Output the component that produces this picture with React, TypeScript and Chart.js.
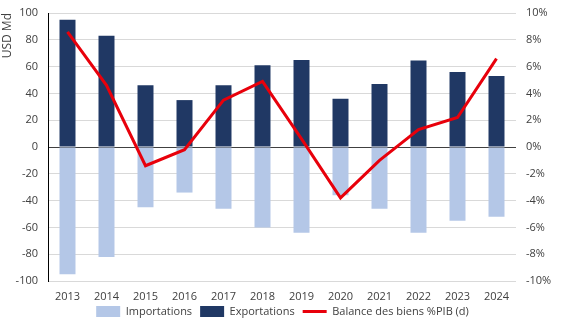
import React, { useEffect, useRef } from "react";
import { Chart, registerables } from "chart.js";

Chart.register(...registerables);

const years = ["2013","2014","2015","2016","2017","2018","2019","2020","2021","2022","2023","2024"];
const exportations = [95, 83, 46, 35, 46, 61, 65, 36, 47, 64.5, 56, 53];
const importations = [-95, -82, -45, -34, -46, -60, -64, -36, -46, -64, -55, -52];
const balancePct = [8.6, 4.6, -1.4, -0.2, 3.5, 4.9, 0.6, -3.8, -1.0, 1.3, 2.2, 6.6];

const FONT = "'Open Sans', 'Noto Sans', sans-serif";

const extendXLabelArea = {
  id: "extendXLabelArea",
  afterLayout(chart: any) {
    const x = chart.scales.x;
    x.bottom = x.top + 30;
  },
};

export default function App() {
  const ref = useRef<HTMLCanvasElement>(null);
  useEffect(() => {
    const chart = new Chart(ref.current!, {
      type: "bar",
      data: {
        labels: years,
        datasets: [
          { label: "Importations", data: importations, backgroundColor: "#B4C7E7", stack: "s", yAxisID: "y", order: 1, barPercentage: 0.82, categoryPercentage: 0.5 } as any,
          { label: "Exportations", data: exportations, backgroundColor: "#203864", stack: "s", yAxisID: "y", order: 1, barPercentage: 0.82, categoryPercentage: 0.5 } as any,
          { type: "line", label: "Balance des biens %PIB (d)", data: balancePct, borderColor: "#E8000B", backgroundColor: "#E8000B", borderWidth: 3, pointRadius: 0, yAxisID: "y1", order: 0, tension: 0 } as any,
        ],
      },
      plugins: [extendXLabelArea],
      options: {
        animation: false,
        responsive: false,
        layout: { padding: { left: 0, right: 0, top: 13, bottom: 0 } },
        plugins: {
          tooltip: { enabled: false },
          legend: {
            position: "bottom",
            labels: {
              font: { family: FONT, size: 11 },
              color: "#404040",
              usePointStyle: true,
              pointStyleWidth: 24,
              boxHeight: 11,
              padding: 8,
              generateLabels: (c: any) => {
                const ds = c.data.datasets;
                return ds.map((d: any, i: number) => ({
                  text: d.label,
                  fillStyle: d.type === "line" ? d.borderColor : d.backgroundColor,
                  strokeStyle: d.type === "line" ? d.borderColor : d.backgroundColor,
                  lineWidth: d.type === "line" ? 3 : 0,
                  pointStyle: d.type === "line" ? "line" : "rect",
                  datasetIndex: i,
                  hidden: false,
                  fontColor: "#404040",
                }));
              },
            },
          },
        },
        scales: {
          x: {
            stacked: true,
            grid: { display: false, drawTicks: false },
            border: { display: false },
            afterFit: (s: any) => { s.height = 17; },
            ticks: { font: { family: FONT, size: 11 }, color: "#404040", padding: 9, maxRotation: 0 },
          },
          y: {
            stacked: true,
            min: -100,
            max: 100,
            afterFit: (s: any) => { s.width = 48; s.paddingTop = 0; s.paddingBottom = 0; },
            ticks: { stepSize: 20, font: { family: FONT, size: 11 }, color: "#404040", padding: 10 },
            grid: {
              color: (ctx: any) => (ctx.tick && ctx.tick.value === 0 ? "#404040" : "#D9D9D9"),
              lineWidth: 1,
              drawTicks: false,
            },
            border: { display: true, color: "#000000", width: 1 },
            title: { display: true, text: "USD Md", align: "end", font: { family: FONT, size: 12 }, color: "#404040", padding: { top: 0, bottom: 0, y: 0 } },
          },
          y1: {
            position: "right",
            min: -10,
            max: 10,
            afterFit: (s: any) => { s.width = 49; s.paddingTop = 0; s.paddingBottom = 0; },
            ticks: { stepSize: 2, font: { family: FONT, size: 11 }, color: "#404040", padding: 10, callback: (v: any) => v + "%" },
            grid: { display: false, drawTicks: false },
            border: { display: false },
          },
        },
      } as any,
    });
    return () => chart.destroy();
  }, []);
  return (
    <div style={{ position: "fixed", left: 0, top: 0, width: 565, height: 327, background: "#fff" }}>
      <canvas ref={ref} width={565} height={327} />
    </div>
  );
}
